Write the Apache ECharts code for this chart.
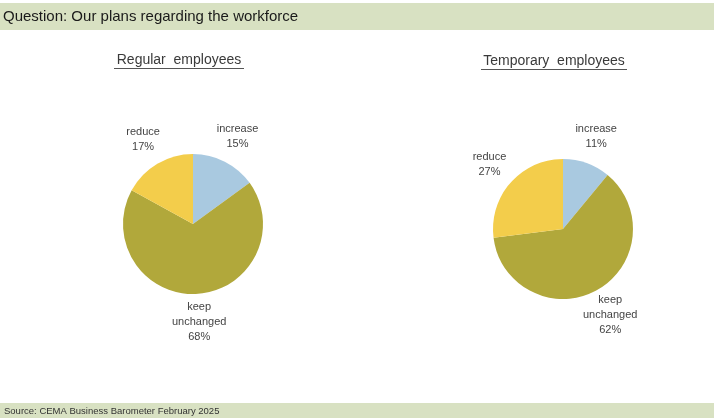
<!DOCTYPE html>
<html><head><meta charset="utf-8">
<script src="https://cdn.jsdelivr.net/npm/echarts@6/dist/echarts.min.js"></script>
<style>html,body{margin:0;padding:0;background:#fff}#c{width:714px;height:418px}</style>
</head><body><div id="c"></div>
<script>
var categories = ['increase', 'keep unchanged', 'reduce'];
var regularValues = [15, 68, 17];
var temporaryValues = [11, 62, 27];
var chartTitles = ['Regular  employees', 'Temporary  employees'];
var questionText = 'Question: Our plans regarding the workforce';
var sourceText = 'Source: CEMA Business Barometer February 2025';
var colors = ['#a9c9e0', '#b1a83b', '#f3cd4b'];

function mk(vals) {
  return categories.map(function (c, i) { return { name: c, value: vals[i], itemStyle: { color: colors[i] } }; });
}
var font = '"Liberation Sans", Arial, sans-serif';
var lbl = {
  show: true, position: 'inside', color: '#444', fontSize: 11, fontFamily: font, lineHeight: 15,
  formatter: function (p) { return p.name.replace(' ', '\n') + '\n' + p.value + '%'; }
};
function pies(vals, center) {
  return [{
    type: 'pie', center: center, radius: 70, startAngle: 90, clockwise: true,
    label: { show: false }, labelLine: { show: false }, silent: true,
    itemStyle: { borderWidth: 0 }, data: mk(vals)
  }, {
    type: 'pie', center: center, radius: [86, 104], startAngle: 90, clockwise: true,
    silent: true, label: lbl, labelLine: { show: false },
    itemStyle: { color: 'transparent', borderWidth: 0 },
    data: categories.map(function (c, i) { return { name: c, value: vals[i] }; })
  }];
}
var chart = echarts.init(document.getElementById('c'), null, { renderer: 'canvas' });
chart.setOption({
  animation: false,
  backgroundColor: '#ffffff',
  graphic: [
    { type: 'rect', shape: { x: 0, y: 3, width: 714, height: 27 }, style: { fill: '#d8e1c2' }, z: -1 },
    { type: 'rect', shape: { x: 0, y: 403, width: 714, height: 15 }, style: { fill: '#d8e1c2' }, z: -1 },
    { type: 'text', x: 3, y: 17, style: { text: questionText, font: '15px ' + font, fill: '#1a1a1a', verticalAlign: 'middle' } },
    { type: 'text', x: 4, y: 411, style: { text: sourceText, font: '9.5px ' + font, fill: '#333', verticalAlign: 'middle' } },
    { type: 'text', x: 179, y: 60, style: { text: chartTitles[0], font: '14px ' + font, fill: '#3a3a3a', align: 'center', verticalAlign: 'middle' } },
    { type: 'line', shape: { x1: 114, y1: 68.5, x2: 244, y2: 68.5 }, style: { stroke: '#555', lineWidth: 1 } },
    { type: 'text', x: 554, y: 61, style: { text: chartTitles[1], font: '14px ' + font, fill: '#3a3a3a', align: 'center', verticalAlign: 'middle' } },
    { type: 'line', shape: { x1: 481, y1: 69.5, x2: 627, y2: 69.5 }, style: { stroke: '#555', lineWidth: 1 } }
  ],
  series: pies(regularValues, [193, 224]).concat(pies(temporaryValues, [563, 229]))
});
</script></body></html>
